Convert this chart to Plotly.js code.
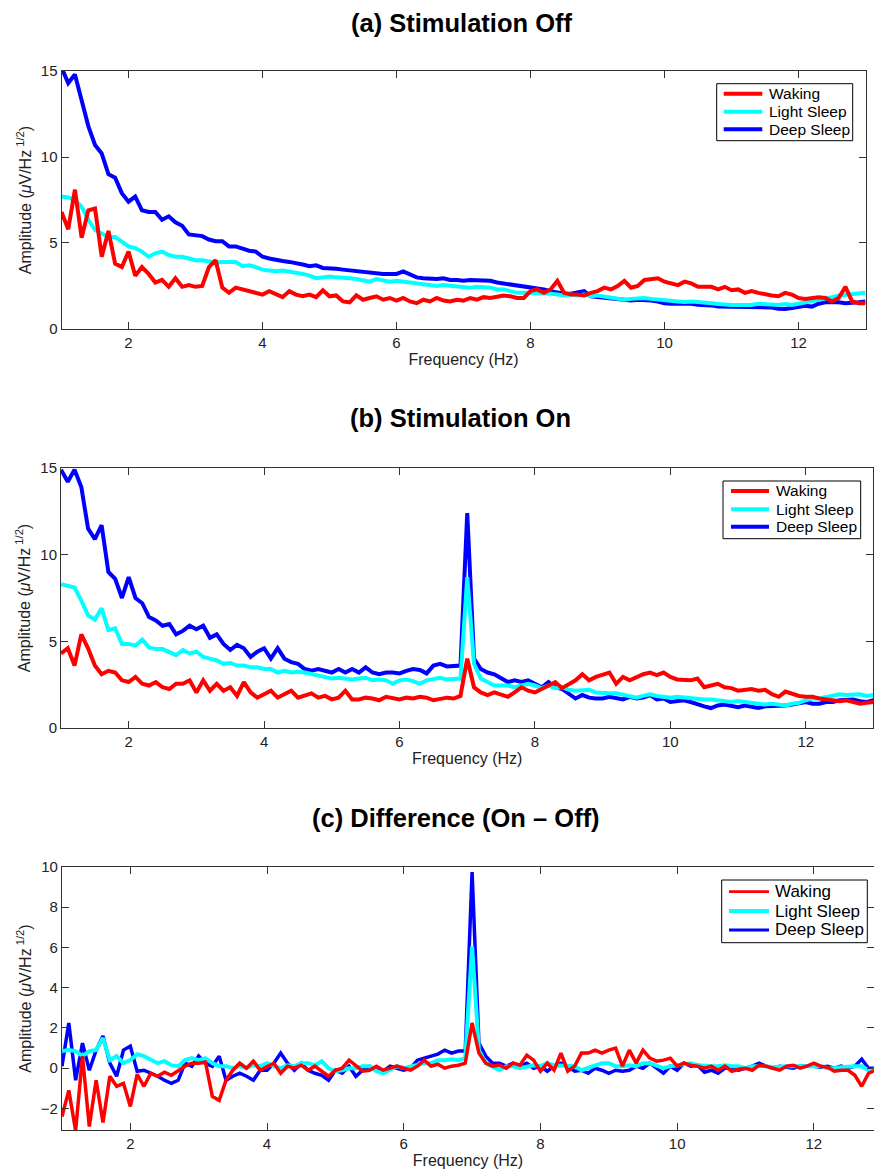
<!DOCTYPE html>
<html>
<head>
<meta charset="utf-8">
<script src="https://cdn.plot.ly/plotly-3.0.1.min.js"></script>
<style>html,body{margin:0;padding:0;background:#fff;}#chart{width:874px;height:1174px;}</style>
</head>
<body>
<div id="chart"></div>
<script>
// Frequency grid (Hz)
var freq = [1,1.1,1.2,1.3,1.4,1.5,1.6,1.7,1.8,1.9,
2,2.1,2.2,2.3,2.4,2.5,2.6,2.7,2.8,2.9,
3,3.1,3.2,3.3,3.4,3.5,3.6,3.7,3.8,3.9,
4,4.1,4.2,4.3,4.4,4.5,4.6,4.7,4.8,4.9,
5,5.1,5.2,5.3,5.4,5.5,5.6,5.7,5.8,5.9,
6,6.1,6.2,6.3,6.4,6.5,6.6,6.7,6.8,6.9,
7,7.1,7.2,7.3,7.4,7.5,7.6,7.7,7.8,7.9,
8,8.1,8.2,8.3,8.4,8.5,8.6,8.7,8.8,8.9,
9,9.1,9.2,9.3,9.4,9.5,9.6,9.7,9.8,9.9,
10,10.1,10.2,10.3,10.4,10.5,10.6,10.7,10.8,10.9,
11,11.1,11.2,11.3,11.4,11.5,11.6,11.7,11.8,11.9,
12,12.1,12.2,12.3,12.4,12.5,12.6,12.7,12.8,12.9,
13];

var seriesNames = ["Waking", "Light Sleep", "Deep Sleep"];
var panelTitles = ["(a) Stimulation Off", "(b) Stimulation On", "(c) Difference (On \u2013 Off)"];
var xTickVals = [2, 4, 6, 8, 10, 12];

// (a) Stimulation Off
var offWaking = [6.8,5.8,8.1,5.3,6.9,7.0,4.2,5.7,3.8,3.6,
4.5,3.1,3.6,3.2,2.7,2.85,2.45,2.95,2.45,2.55,
2.45,2.5,3.6,4.0,2.4,2.1,2.4,2.3,2.2,2.1,
2.0,2.2,2.0,1.85,2.2,2.0,1.9,2.0,1.85,2.25,
1.9,1.95,1.6,1.55,1.95,1.7,1.8,1.9,1.7,1.8,
1.65,1.8,1.6,1.5,1.7,1.6,1.8,1.65,1.6,1.7,
1.65,1.8,1.7,1.85,1.8,1.9,1.95,1.9,1.8,1.8,
2.2,2.3,2.1,2.3,2.8,2.1,2.0,2.0,1.95,2.1,
2.2,2.4,2.3,2.5,2.8,2.4,2.5,2.85,2.9,2.95,
2.75,2.65,2.55,2.75,2.65,2.45,2.45,2.45,2.3,2.45,
2.25,2.3,2.1,2.2,2.1,2.0,1.95,1.9,2.1,2.0,
1.8,1.75,1.8,1.85,1.8,1.6,1.8,2.45,1.6,1.5,
1.5];
var offLight = [7.7,7.65,7.5,7.1,6.35,5.75,5.55,5.35,5.35,5.05,
4.8,4.7,4.5,4.2,4.4,4.5,4.3,4.2,4.2,4.1,
4.0,4.0,3.9,3.85,3.9,3.9,3.9,3.65,3.7,3.6,
3.45,3.4,3.35,3.4,3.35,3.3,3.2,3.1,2.95,3.0,
3.05,3.0,3.0,2.95,2.9,2.85,2.75,2.9,2.85,2.75,
2.8,2.75,2.7,2.65,2.6,2.55,2.5,2.55,2.5,2.45,
2.4,2.4,2.45,2.45,2.4,2.3,2.3,2.2,2.1,2.1,
2.1,2.1,2.1,2.05,2.0,1.95,2.0,1.95,2.0,1.9,
1.95,1.9,1.8,1.75,1.7,1.75,1.8,1.8,1.75,1.7,
1.65,1.65,1.6,1.57,1.6,1.57,1.55,1.5,1.45,1.4,
1.4,1.4,1.4,1.4,1.47,1.45,1.4,1.4,1.45,1.4,
1.47,1.55,1.6,1.65,1.75,1.85,1.95,2.0,2.0,2.05,
2.1];
var offDeep = [15.2,14.3,14.8,13.3,11.8,10.7,10.2,9.0,8.8,7.9,
7.4,7.7,6.9,6.8,6.8,6.35,6.55,6.2,6.0,5.5,
5.45,5.4,5.2,5.1,5.1,4.8,4.8,4.65,4.55,4.5,
4.2,4.1,4.0,3.95,3.9,3.85,3.75,3.65,3.7,3.55,
3.55,3.5,3.45,3.4,3.4,3.35,3.3,3.25,3.2,3.2,
3.2,3.35,3.15,3.0,2.95,2.9,2.9,2.95,2.85,2.85,
2.8,2.85,2.85,2.8,2.8,2.7,2.65,2.6,2.5,2.45,
2.4,2.35,2.3,2.2,2.1,2.05,2.05,2.1,2.2,1.9,
1.85,1.8,1.8,1.75,1.65,1.65,1.7,1.7,1.65,1.6,
1.5,1.47,1.47,1.45,1.47,1.4,1.4,1.37,1.3,1.3,
1.28,1.25,1.28,1.25,1.28,1.3,1.25,1.18,1.16,1.22,
1.3,1.35,1.3,1.47,1.55,1.57,1.55,1.5,1.5,1.55,
1.6];

// (b) Stimulation On
var onWaking = [4.3,4.6,3.6,5.4,4.6,3.6,3.1,3.3,3.2,2.75,
2.65,2.95,2.55,2.45,2.65,2.35,2.25,2.55,2.55,2.75,
2.05,2.75,2.15,2.55,2.15,2.35,1.85,2.65,2.05,1.75,
1.95,2.15,1.75,1.95,2.15,1.75,1.85,2.0,1.75,1.85,
1.65,1.75,2.15,1.65,1.65,1.75,1.7,1.6,1.8,1.7,
1.65,1.75,1.7,1.8,1.75,1.6,1.65,1.75,1.7,1.85,
4.0,2.35,2.05,1.9,2.05,1.95,1.8,2.05,2.35,2.15,
2.05,2.25,2.45,2.65,2.3,2.55,2.75,3.1,2.75,2.95,
3.1,3.2,2.55,2.95,2.75,2.95,3.1,3.2,3.05,3.2,
2.95,2.8,2.75,2.75,2.85,2.35,2.45,2.55,2.35,2.3,
2.15,2.2,2.25,2.15,2.2,1.95,1.8,2.1,1.95,1.85,
1.8,1.8,1.7,1.65,1.6,1.55,1.6,1.5,1.4,1.45,
1.5];
var onLight = [8.3,8.2,8.1,7.35,6.5,6.25,6.9,5.65,5.75,4.85,
4.85,4.75,5.1,4.65,4.55,4.55,4.4,4.2,4.5,4.3,
4.4,4.1,4.0,3.9,3.7,3.75,3.6,3.6,3.5,3.5,
3.4,3.4,3.2,3.3,3.2,3.25,3.2,3.1,3.05,2.95,
2.85,2.9,2.85,2.8,2.85,2.9,2.75,2.8,2.75,2.55,
2.75,2.8,2.7,2.55,2.75,2.85,2.9,2.8,2.85,2.85,
8.7,3.7,2.85,2.65,2.45,2.45,2.45,2.35,2.45,2.55,
2.45,2.3,2.45,2.3,2.35,2.2,2.15,2.15,2.2,2.05,
2.0,2.0,2.0,1.9,1.85,1.75,1.85,1.95,1.85,1.8,
1.75,1.8,1.75,1.7,1.65,1.65,1.65,1.6,1.5,1.5,
1.55,1.5,1.45,1.4,1.35,1.4,1.35,1.3,1.4,1.45,
1.6,1.7,1.7,1.8,1.9,1.95,1.9,1.9,1.95,1.85,
1.9];
var onDeep = [14.9,14.2,14.9,13.9,11.5,10.9,11.7,9.0,8.6,7.5,
8.7,7.5,7.2,6.4,6.2,5.9,6.0,5.4,5.6,5.9,
5.7,5.9,5.2,5.4,4.85,4.5,4.8,4.6,4.1,4.4,
4.6,4.0,4.6,4.0,3.8,3.7,3.4,3.3,3.4,3.3,
3.2,3.4,3.2,3.4,3.2,3.5,3.2,3.1,3.2,3.2,
3.15,3.3,3.4,3.35,3.15,3.6,3.7,3.55,3.6,3.6,
12.4,4.0,3.4,3.2,3.1,2.85,2.65,2.75,2.65,2.75,
2.55,2.35,2.65,2.35,2.25,2.0,1.7,1.9,1.75,1.7,
1.7,1.8,1.7,1.65,1.8,1.7,1.75,1.9,1.65,1.7,
1.5,1.55,1.6,1.5,1.35,1.25,1.15,1.3,1.35,1.3,
1.2,1.3,1.25,1.15,1.25,1.25,1.3,1.3,1.35,1.4,
1.5,1.4,1.4,1.5,1.5,1.6,1.6,1.65,1.55,1.5,
1.6];

// (c) Difference (On - Off)
var diffWaking = [-2.4,-1.1,-3.1,0.6,-2.9,-0.6,-2.7,-0.4,-0.9,-0.75,
-1.9,-0.3,-0.9,-0.25,-0.4,-0.2,-0.35,-0.1,0.1,0.25,
0.25,0.3,-1.4,-1.6,-0.6,-0.1,0.25,0.0,0.35,-0.1,
0.1,0.25,-0.25,0.1,0.0,0.15,-0.1,0.1,-0.15,-0.4,
-0.1,0.0,0.4,0.1,-0.15,-0.1,0.1,-0.1,0.0,0.1,
0.0,-0.1,0.1,0.4,0.1,0.2,0.0,0.1,0.15,0.25,
2.25,0.75,0.25,0.1,0.15,0.0,0.25,0.15,0.65,0.4,
-0.15,0.25,-0.1,0.75,-0.15,0.1,0.75,0.75,0.9,0.75,
0.9,1.0,0.1,0.9,0.25,0.9,0.5,0.35,0.4,0.5,
0.1,0.25,0.15,0.1,0.0,0.1,-0.1,0.1,-0.15,-0.05,
0.0,-0.1,0.15,0.1,0.0,-0.1,0.1,0.15,0.0,0.1,
0.25,0.1,0.05,-0.15,-0.1,-0.1,-0.35,-0.9,-0.25,-0.1,
-0.05];
var diffLight = [0.85,0.9,0.85,0.6,0.85,0.9,1.5,0.4,0.6,0.25,
0.4,0.7,0.6,0.4,0.25,0.35,0.15,0.1,0.4,0.5,
0.4,0.5,0.25,0.1,0.1,0.0,0.1,0.0,0.15,0.1,
0.25,0.1,0.0,0.15,0.1,0.25,0.25,0.15,0.35,0.0,
-0.15,-0.1,0.0,0.0,0.1,0.1,-0.15,-0.25,-0.1,0.1,
0.0,0.1,0.15,0.25,0.25,0.4,0.4,0.45,0.4,0.5,
6.05,0.9,0.25,0.1,-0.1,0.1,0.1,0.0,0.1,0.15,
0.1,0.25,0.15,0.15,0.1,0.1,-0.1,0.0,0.15,0.25,
0.25,0.1,0.1,0.15,0.1,0.25,0.25,0.1,0.0,0.1,
0.15,0.15,0.25,0.15,0.1,0.1,0.1,0.15,0.1,0.1,
0.0,0.1,0.1,0.1,0.05,0.1,0.1,0.1,0.1,0.1,
0.1,0.1,0.0,0.0,0.05,0.1,0.1,0.1,-0.1,-0.05,
-0.05];
var diffDeep = [0.1,2.25,-0.6,1.25,-0.1,0.9,1.6,0.25,-0.4,0.9,
1.1,-0.15,-0.1,-0.25,-0.4,-0.6,-0.75,-0.6,0.25,0.1,
0.6,0.25,0.1,0.6,-0.6,-0.4,-0.25,-0.4,-0.6,-0.1,
-0.1,0.25,0.75,0.25,-0.1,0.25,-0.1,-0.25,-0.35,-0.6,
-0.1,-0.25,0.1,-0.4,-0.1,0.1,-0.1,-0.15,0.1,0.0,
-0.1,0.0,0.4,0.5,0.6,0.7,0.9,0.75,0.85,0.85,
9.75,1.25,0.6,0.25,0.25,0.1,0.25,0.1,0.25,0.0,
0.1,-0.15,0.1,0.25,0.1,-0.15,-0.1,-0.25,0.0,-0.1,
-0.25,-0.1,-0.15,-0.1,0.1,0.0,0.25,0.0,-0.25,0.1,
-0.1,0.25,0.1,0.15,-0.2,-0.1,-0.25,0.0,0.0,-0.1,
0.0,0.1,0.25,0.1,0.0,0.1,0.05,0.0,0.1,0.1,
0.1,0.05,0.1,0.0,0.1,0.0,0.1,0.45,0.0,0.0,
0.0];

var colors = {"Waking": "#ff0000", "Light Sleep": "#00ffff", "Deep Sleep": "#0000ff"};
var FONT = "Liberation Sans, Arial, Helvetica, sans-serif";
var W = 874, H = 1174;
function px(v) { return v / W; }
function py(v) { return 1 - v / H; }

var panels = [
  {w: offWaking, l: offLight, d: offDeep, xa: "x", ya: "y"},
  {w: onWaking, l: onLight, d: onDeep, xa: "x2", ya: "y2"},
  {w: diffWaking, l: diffLight, d: diffDeep, xa: "x3", ya: "y3"}
];
// line widths per panel: [Waking, Light, Deep]
var widths = [[4, 4, 4], [4, 4, 4], [3.5, 4, 3.5]];

var data = [];
panels.forEach(function(p, i) {
  var vals = {"Waking": p.w, "Light Sleep": p.l, "Deep Sleep": p.d};
  ["Deep Sleep", "Light Sleep", "Waking"].forEach(function(name) {
    var wi = widths[i][seriesNames.indexOf(name)];
    data.push({
      type: "scatter", mode: "lines", x: freq, y: vals[name], name: name,
      xaxis: p.xa, yaxis: p.ya, showlegend: false,
      line: {color: colors[name], width: wi}, hoverinfo: "x+y"
    });
  });
});

function xax(dom, anchor, rng) {
  return {domain: dom, anchor: anchor, range: rng, tickvals: xTickVals,
    showline: true, linecolor: "#333", linewidth: 1, mirror: "ticks",
    ticks: "inside", ticklen: 7, tickcolor: "#333", showgrid: false, zeroline: false,
    tickfont: {family: FONT, size: 15, color: "#222"},
    title: {text: "Frequency (Hz)", font: {family: FONT, size: 16, color: "#222"}, standoff: 3}};
}
function yax(dom, anchor, rng, dt) {
  return {domain: dom, anchor: anchor, range: rng, dtick: dt, tick0: 0,
    showline: true, linecolor: "#333", linewidth: 1, mirror: "ticks",
    ticks: "inside", ticklen: 7, tickcolor: "#333", showgrid: false, zeroline: false,
    tickfont: {family: FONT, size: 15, color: "#222"},
    title: {text: "Amplitude (<i>\u03bc</i>V/Hz<sup> 1/2</sup>)", font: {family: FONT, size: 16, color: "#222"}, standoff: 5}};
}

// Manual legend boxes (pixel geometry)
var legends = [
  {box: [716.7, 852.7, 83.7, 140.7], lx: [723.7, 762.3], tx: 766.7, rows: [93.7, 111.7, 129.3], fs: 15.5, lw: [4, 4, 4]},
  {box: [723, 860.7, 481, 538.7], lx: [731, 769], tx: 774.3, rows: [491, 509.3, 526.7], fs: 15.5, lw: [4, 4, 4]},
  {box: [721.7, 867.3, 880, 942.7], lx: [729, 769], tx: 773, rows: [891.7, 911, 930], fs: 17, lw: [2.7, 4, 3]}
];

var shapes = [];
var annotations = [];
legends.forEach(function(L) {
  shapes.push({type: "rect", xref: "paper", yref: "paper",
    x0: px(L.box[0]), x1: px(L.box[1]), y0: py(L.box[3]), y1: py(L.box[2]),
    line: {color: "#000", width: 1}, fillcolor: "#fff", layer: "above"});
  seriesNames.forEach(function(name, k) {
    shapes.push({type: "line", xref: "paper", yref: "paper",
      x0: px(L.lx[0]), x1: px(L.lx[1]), y0: py(L.rows[k]), y1: py(L.rows[k]),
      line: {color: colors[name], width: L.lw[k]}, layer: "above"});
    annotations.push({text: name, xref: "paper", yref: "paper", x: px(L.tx), y: py(L.rows[k]),
      xanchor: "left", yanchor: "middle", showarrow: false,
      font: {family: FONT, size: L.fs, color: "#000"}});
  });
});

var titlePos = [[462, 23], [460, 418], [456, 818]];
panelTitles.forEach(function(t, i) {
  annotations.push({text: "<b>" + t + "</b>", xref: "paper", yref: "paper",
    x: px(titlePos[i][0]), y: py(titlePos[i][1]), xanchor: "center", yanchor: "middle",
    showarrow: false, font: {family: FONT, size: 25.5, color: "#000"}});
});

var layout = {
  width: W, height: H, margin: {l: 0, r: 0, t: 0, b: 0},
  paper_bgcolor: "#fff", plot_bgcolor: "#fff", showlegend: false,
  font: {family: FONT},
  xaxis: xax([0.0704, 0.9903], "y", [1, 13]),
  yaxis: yax([0.7198, 0.9395], "x", [0, 15], 5),
  xaxis2: xax([0.0698, 0.9994], "y2", [1, 13]),
  yaxis2: yax([0.3799, 0.6014], "x2", [0, 15], 5),
  xaxis3: xax([0.0709, 1.0], "y3", [1, 12.88]),
  yaxis3: yax([0.0375, 0.2615], "x3", [-3.07, 10], 2),
  shapes: shapes,
  annotations: annotations
};

Plotly.newPlot("chart", data, layout, {staticPlot: true, displayModeBar: false});
</script>
</body>
</html>
